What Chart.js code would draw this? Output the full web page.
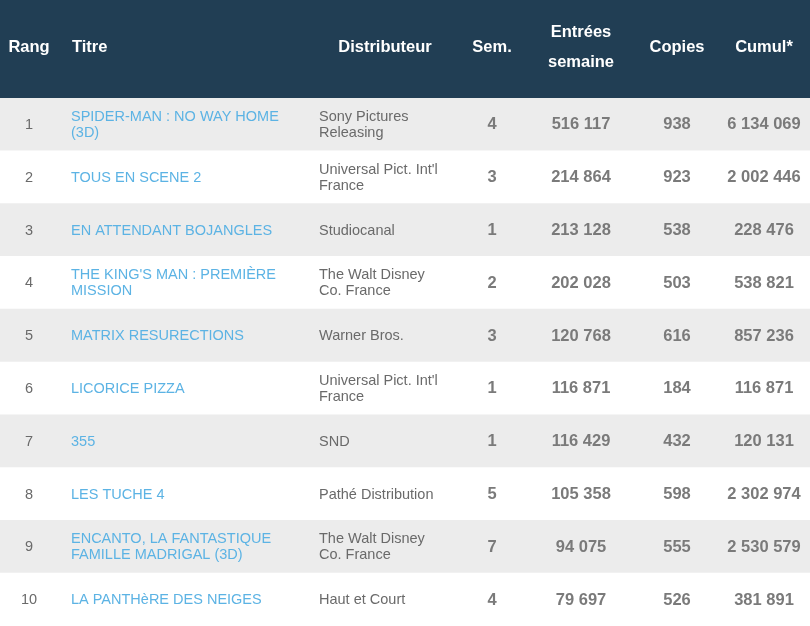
<!DOCTYPE html>
<html>
<head>
<meta charset="utf-8">
<script src="https://cdn.jsdelivr.net/npm/chart.js@4/dist/chart.umd.min.js"></script>
<style>
  html, body { margin: 0; padding: 0; background: #ffffff; }
  #wrap { width: 810px; height: 626px; position: relative; }
</style>
</head>
<body>
<div id="wrap"><canvas id="boxOffice"></canvas></div>
<script>
// Table data (box office, week)
const headers = ['Rang', 'Titre', 'Distributeur', 'Sem.', 'Entrées\nsemaine', 'Copies', 'Cumul*'];
const ranks = ['1', '2', '3', '4', '5', '6', '7', '8', '9', '10'];
const titles = [
    'SPIDER-MAN : NO WAY HOME\n(3D)',
    'TOUS EN SCENE 2',
    'EN ATTENDANT BOJANGLES',
    'THE KING\'S MAN : PREMIÈRE\nMISSION',
    'MATRIX RESURECTIONS',
    'LICORICE PIZZA',
    '355',
    'LES TUCHE 4',
    'ENCANTO, LA FANTASTIQUE\nFAMILLE MADRIGAL (3D)',
    'LA PANTHèRE DES NEIGES'
];
const distributors = [
    'Sony Pictures\nReleasing',
    'Universal Pict. Int\'l\nFrance',
    'Studiocanal',
    'The Walt Disney\nCo. France',
    'Warner Bros.',
    'Universal Pict. Int\'l\nFrance',
    'SND',
    'Pathé Distribution',
    'The Walt Disney\nCo. France',
    'Haut et Court'
];
const weeks = ['4', '3', '1', '2', '3', '1', '1', '5', '7', '4'];
const entries = ['516 117', '214 864', '213 128', '202 028', '120 768', '116 871', '116 429', '105 358', '94 075', '79 697'];
const copies = ['938', '923', '538', '503', '616', '184', '432', '598', '555', '526'];
const cumul = ['6 134 069', '2 002 446', '228 476', '538 821', '857 236', '116 871', '120 131', '2 302 974', '2 530 579', '381 891'];

// Layout / style
const HEADER_H = 98;
const NAVY = '#213e54';
const STRIPE = '#ececec';
const FONT = '"Liberation Sans", Arial, sans-serif';

// column anchors: x position and alignment
const headerCols = [
    { x: 29, align: 'center' },
    { x: 72, align: 'left' },
    { x: 385, align: 'center' },
    { x: 492, align: 'center' },
    { x: 581, align: 'center' },
    { x: 677, align: 'center' },
    { x: 764, align: 'center' }
];

function drawLines(ctx, text, x, y, lineH) {
    const lines = text.split('\n');
    const top = y - (lines.length - 1) * lineH / 2;
    lines.forEach((ln, k) => ctx.fillText(ln, x, top + k * lineH));
}

const tablePlugin = {
    id: 'tablePlugin',
    beforeDraw(chart) {
        const ctx = chart.ctx;
        ctx.save();
        ctx.fillStyle = NAVY;
        ctx.fillRect(0, 0, chart.width, chart.chartArea.top);
        ctx.fillStyle = '#ffffff';
        ctx.font = 'bold 16.5px ' + FONT;
        ctx.textBaseline = 'middle';
        headers.forEach((h, i) => {
            ctx.textAlign = headerCols[i].align;
            drawLines(ctx, h, headerCols[i].x, 47, 30);
        });
        ctx.restore();
    },
    afterDatasetsDraw(chart) {
        const ctx = chart.ctx;
        const yScale = chart.scales.y;
        ctx.save();
        ctx.textBaseline = 'middle';
        ranks.forEach((r, i) => {
            const y = yScale.getPixelForValue(i) + 0.5;

            ctx.font = '14.5px ' + FONT;
            ctx.fillStyle = '#6a6a6a';
            ctx.textAlign = 'center';
            ctx.fillText(r, 29, y);

            ctx.textAlign = 'left';
            ctx.fillStyle = '#5cb3e4';
            drawLines(ctx, titles[i], 71, y, 16);

            ctx.fillStyle = '#6a6a6a';
            drawLines(ctx, distributors[i], 319, y, 16);

            ctx.font = 'bold 16.5px ' + FONT;
            ctx.fillStyle = '#7a7a7a';
            ctx.textAlign = 'center';
            ctx.fillText(weeks[i], 492, y);
            ctx.fillText(entries[i], 581, y);
            ctx.fillText(copies[i], 677, y);
            ctx.fillText(cumul[i], 764, y);
        });
        ctx.restore();
    }
};

new Chart(document.getElementById('boxOffice'), {
    type: 'bar',
    data: {
        labels: ranks,
        datasets: [{
            // full-width row backgrounds (alternating stripes)
            data: ranks.map(() => 1),
            backgroundColor: ranks.map((r, i) => i % 2 === 0 ? STRIPE : '#ffffff'),
            borderWidth: 0,
            barPercentage: 1,
            categoryPercentage: 1
        }]
    },
    options: {
        indexAxis: 'y',
        responsive: true,
        maintainAspectRatio: false,
        animation: false,
        events: [],
        layout: { padding: { top: HEADER_H, left: 0, right: 0, bottom: 0 } },
        plugins: {
            legend: { display: false },
            tooltip: { enabled: false }
        },
        scales: {
            x: { display: false, min: 0, max: 1 },
            y: { display: false }
        }
    },
    plugins: [tablePlugin]
});
</script>
</body>
</html>
